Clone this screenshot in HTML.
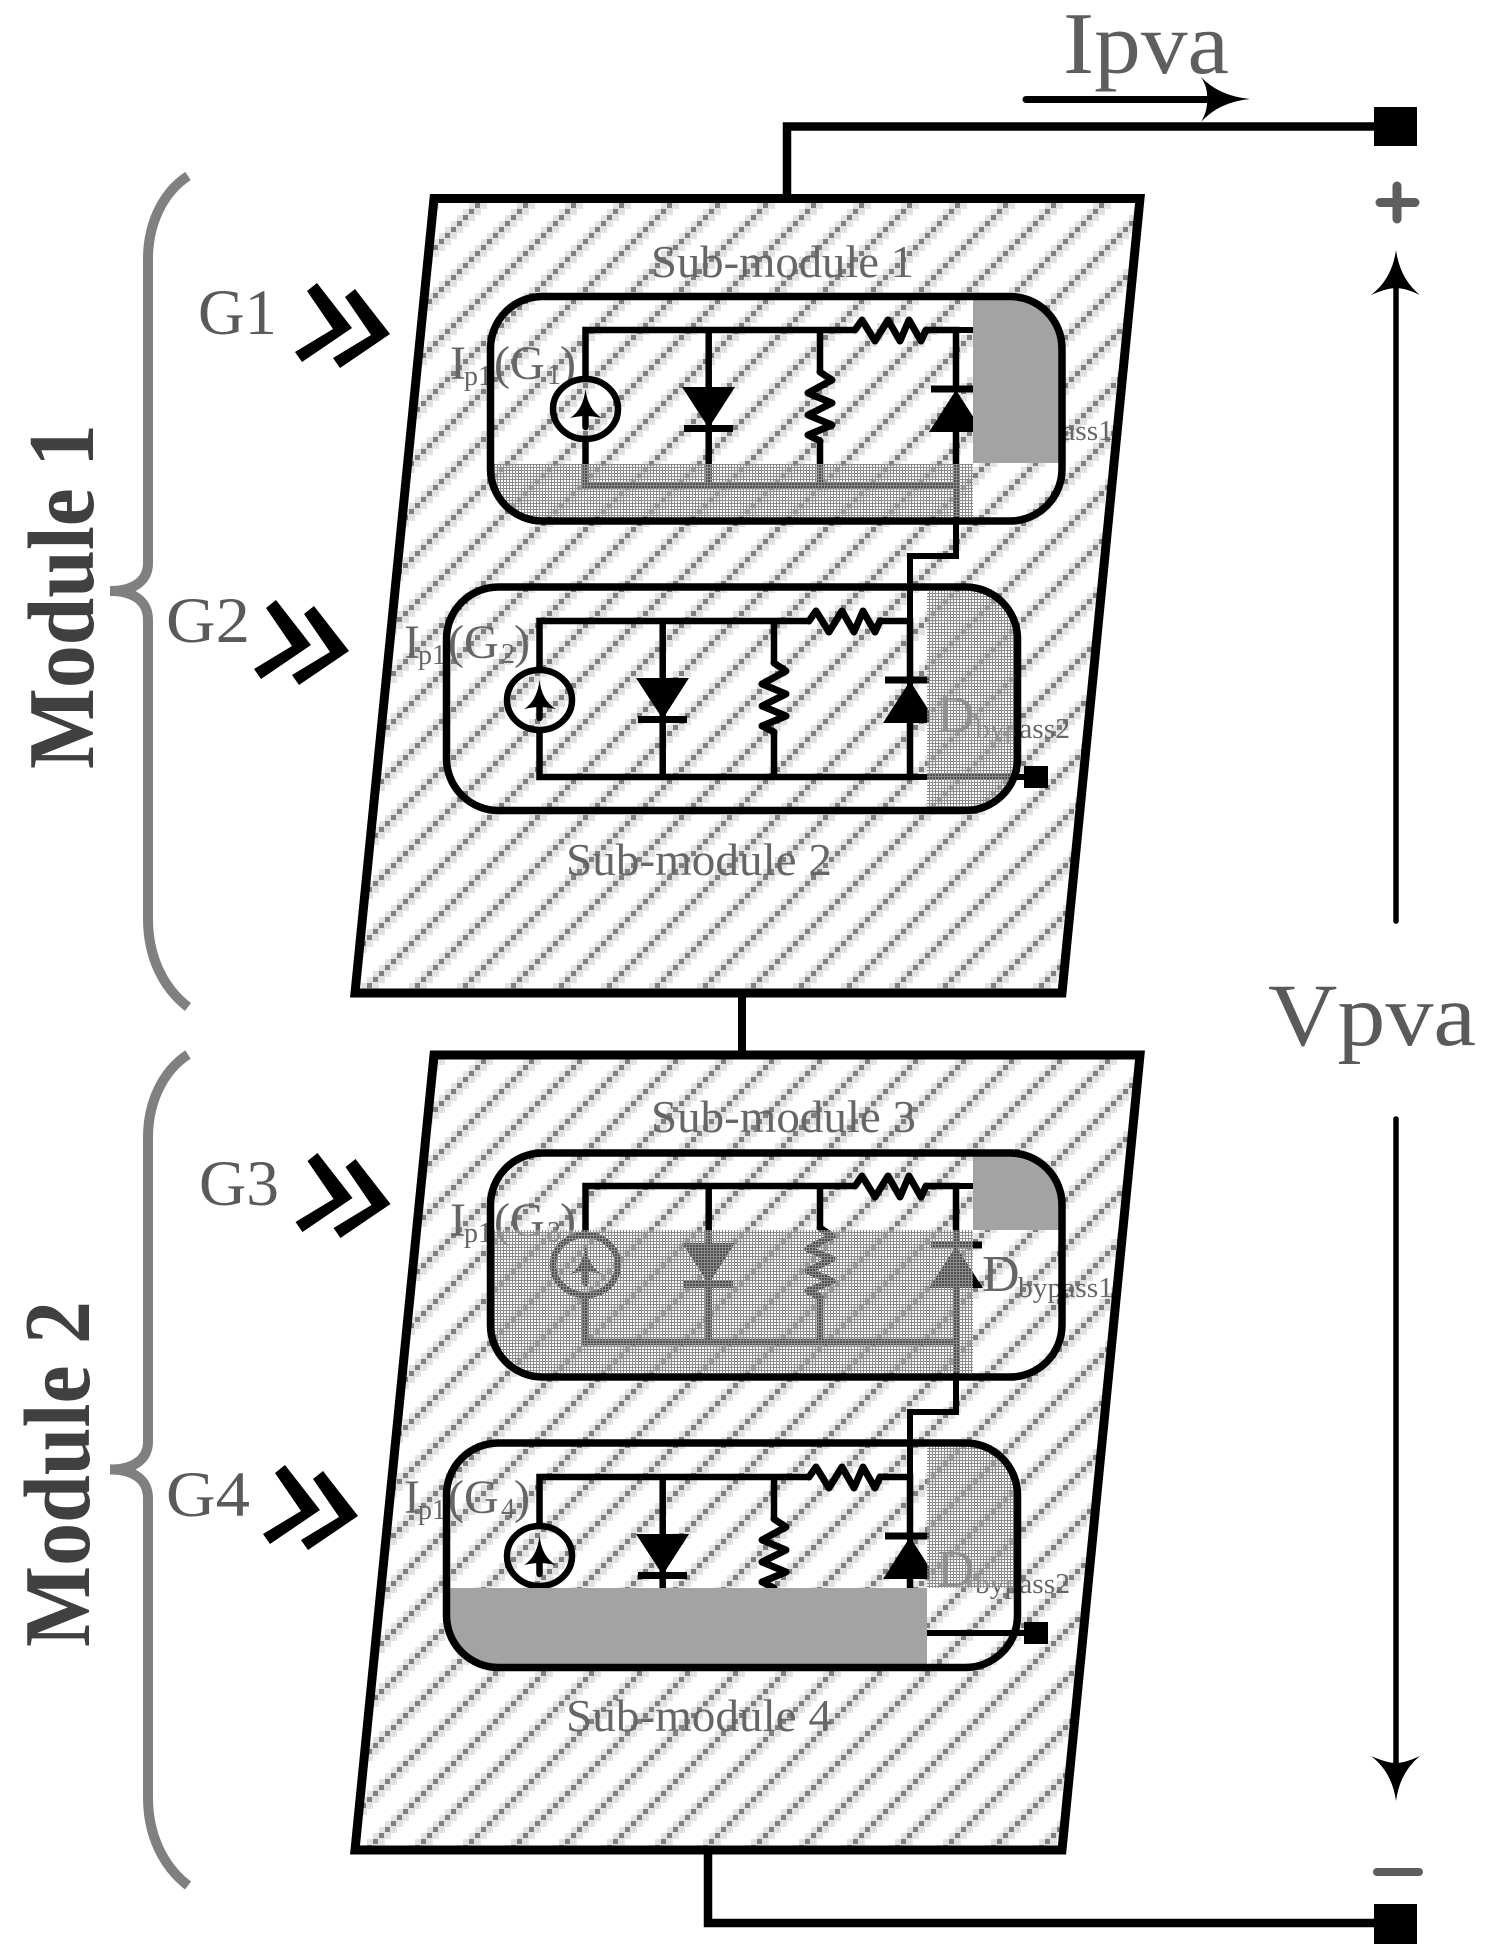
<!DOCTYPE html>
<html><head><meta charset="utf-8"><style>
html,body{margin:0;padding:0;background:#fff}
svg{display:block}
text{font-family:"Liberation Serif",serif}
</style></head><body>
<svg xmlns="http://www.w3.org/2000/svg" width="1486" height="1959" viewBox="0 0 1486 1959">
<defs>
<pattern id="h1" patternUnits="userSpaceOnUse" x="475" y="203" width="48" height="48">
<rect width="48" height="48" fill="#fff"/>
<g shape-rendering="crispEdges">
<path fill="#e2e2e2" d="M0 6h6v6h-6zM6 0h6v6h-6zM12 42h6v6h-6zM18 36h6v6h-6zM24 30h6v6h-6zM30 24h6v6h-6zM36 18h6v6h-6zM42 12h6v6h-6zM0 42h6v6h-6zM6 36h6v6h-6zM12 30h6v6h-6zM18 24h6v6h-6zM24 18h6v6h-6zM30 12h6v6h-6zM36 6h6v6h-6zM42 0h6v6h-6z"/>
<path fill="#e2e2e2" d="M0 0h6v6h-6zM6 42h6v6h-6zM12 36h6v6h-6zM18 30h6v6h-6zM24 24h6v6h-6zM30 18h6v6h-6zM36 12h6v6h-6zM42 6h6v6h-6z"/>
<path fill="#808080" d="M0 0h5v5h-5zM6 42h5v5h-5zM12 36h5v5h-5zM18 30h5v5h-5zM24 24h5v5h-5zM30 18h5v5h-5zM36 12h5v5h-5zM42 6h5v5h-5z"/>
</g>
</pattern>
<pattern id="h2" patternUnits="userSpaceOnUse" x="709" y="1839" width="48" height="48">
<rect width="48" height="48" fill="#fff"/>
<g shape-rendering="crispEdges">
<path fill="#e2e2e2" d="M0 6h6v6h-6zM6 0h6v6h-6zM12 42h6v6h-6zM18 36h6v6h-6zM24 30h6v6h-6zM30 24h6v6h-6zM36 18h6v6h-6zM42 12h6v6h-6zM0 42h6v6h-6zM6 36h6v6h-6zM12 30h6v6h-6zM18 24h6v6h-6zM24 18h6v6h-6zM30 12h6v6h-6zM36 6h6v6h-6zM42 0h6v6h-6z"/>
<path fill="#e2e2e2" d="M0 0h6v6h-6zM6 42h6v6h-6zM12 36h6v6h-6zM18 30h6v6h-6zM24 24h6v6h-6zM30 18h6v6h-6zM36 12h6v6h-6zM42 6h6v6h-6z"/>
<path fill="#808080" d="M0 0h5v5h-5zM6 42h5v5h-5zM12 36h5v5h-5zM18 30h5v5h-5zM24 24h5v5h-5zM30 18h5v5h-5zM36 12h5v5h-5zM42 6h5v5h-5z"/>
</g>
</pattern>
<pattern id="dither" patternUnits="userSpaceOnUse" width="3" height="3">
<g shape-rendering="crispEdges">
<path fill="#8c8c8c" fill-rule="evenodd" d="M0 0H3V3H0ZM0 0V2H2V0Z"/>
<rect width="2" height="2" fill="#fff" fill-opacity="0.3"/>
</g>
</pattern>
<clipPath id="c1"><rect x="490.500" y="296.500" width="571.500" height="224.500" rx="52" ry="52"/></clipPath>
<clipPath id="c2"><rect x="446.500" y="587" width="571" height="223.500" rx="52" ry="52"/></clipPath>
<clipPath id="c3"><rect x="490.500" y="1153" width="571.500" height="224" rx="52" ry="52"/></clipPath>
<clipPath id="c4"><rect x="446.500" y="1443" width="571" height="224.500" rx="52" ry="52"/></clipPath>
<clipPath id="cl"><rect x="0" y="0" width="930" height="1959"/></clipPath>

<g id="circuit">
<path fill="none" stroke="#000" stroke-width="6.500" stroke-linejoin="miter" d="M585.500 379V330H855M926 330H956V389M956 431V486H585.500V441M708.700 330V486M820 330V372M820 440V486"/>
<path fill="none" stroke="#000" stroke-width="7" stroke-linejoin="round" stroke-linecap="round" d="M855 330L862 320L875 341L888 320L900 341L909 320L921 341L926 330"/>
<path fill="none" stroke="#000" stroke-width="7" stroke-linejoin="round" stroke-linecap="round" d="M820 372L832 380L808 393L832 403L808 415L832 425L808 435L820 441"/>
<ellipse cx="585.500" cy="409" rx="32.500" ry="30" fill="none" stroke="#000" stroke-width="6.500"/>
<path d="M585.500 389Q588 410 602 418Q592 416 585.500 416Q579 416 570 418Q583 410 585.500 389Z" fill="#000"/>
<path d="M585.500 410V427" stroke="#000" stroke-width="6.500" stroke-linecap="round"/>
<path d="M682 387H735L708.700 428Z" fill="#000"/>
<path d="M684 428.500H733" stroke="#000" stroke-width="7"/>
<path d="M929 432H983L956 390Z" fill="#000"/>
<path d="M931 389H982" stroke="#000" stroke-width="7"/>
</g>
<polygon id="chev" points="307,291 317,283 352,328 302,362 295,352 333,329" fill="#000"/>
<path id="brace" fill="none" stroke="#808080" stroke-width="10" d="M188 176C162 193 148 225 148 259V563C148 580 135 591 110 591C135 591 148 602 148 620V919C148 955 162 987 188 1007"/>
</defs>

<rect width="1486" height="1959" fill="#fff"/>

<!-- top wiring -->
<path d="M787 198V126.500H1376" fill="none" stroke="#000" stroke-width="8.500"/>
<rect x="1374" y="107" width="43" height="39" fill="#000"/>
<path d="M1026 99.500H1212" stroke="#000" stroke-width="7" stroke-linecap="round"/>
<path d="M1250 99Q1219 102 1201 122Q1208 110 1207 99Q1208 88 1201 77Q1219 96 1250 99Z" fill="#000"/>
<text x="1063" y="73" font-size="88" fill="#5e5e5e" textLength="166" lengthAdjust="spacingAndGlyphs">Ipva</text>
<path d="M1380 202.500H1415M1397 186V219" stroke="#5e5e5e" stroke-width="9" stroke-linecap="round"/>

<!-- Vpva arrow -->
<path d="M1396 280V921" stroke="#000" stroke-width="5.500" stroke-linecap="round"/>
<path d="M1396 250Q1400 279 1420 295Q1405 288 1396 288Q1387 288 1371 295Q1392 279 1396 250Z" fill="#000"/>
<path d="M1396 1119V1770" stroke="#000" stroke-width="5.500" stroke-linecap="round"/>
<path d="M1396 1801Q1400 1772 1420 1756Q1405 1763 1396 1763Q1387 1763 1371 1756Q1392 1772 1396 1801Z" fill="#000"/>
<text x="1268" y="1045" font-size="89" fill="#5a5a5a" textLength="208" lengthAdjust="spacingAndGlyphs">Vpva</text>
<path d="M1377 1872H1419" stroke="#5e5e5e" stroke-width="8" stroke-linecap="round"/>

<!-- bottom wiring -->
<path d="M708 1850V1923H1376" fill="none" stroke="#000" stroke-width="8.500"/>
<rect x="1374" y="1904" width="43" height="40" fill="#000"/>
<path d="M742 993V1055" stroke="#000" stroke-width="8"/>

<!-- panels -->
<polygon points="434,198.500 1140,198.500 1062,993 355,993" fill="url(#h1)" stroke="#000" stroke-width="9"/>
<polygon points="434,1055 1140,1055 1062,1850 355,1850" fill="url(#h2)" stroke="#000" stroke-width="9"/>

<!-- labels under overlays -->
<g fill="#666">
<text x="651" y="277" font-size="46" textLength="263" lengthAdjust="spacingAndGlyphs">Sub-module 1</text>
<text x="566" y="875" font-size="46" textLength="266" lengthAdjust="spacingAndGlyphs">Sub-module 2</text>
<text x="651" y="1132" font-size="46" textLength="265" lengthAdjust="spacingAndGlyphs">Sub-module 3</text>
<text x="566" y="1731" font-size="46" textLength="266" lengthAdjust="spacingAndGlyphs">Sub-module 4</text>

<g transform="translate(450,379)">
<text x="0" y="0" font-size="48">I</text><text x="14" y="6" font-size="28">p1</text>
<text x="44" y="0" font-size="48">(G</text><text x="97" y="5" font-size="28">1</text><text x="110" y="0" font-size="48">)</text>
</g>
<g transform="translate(404,658)">
<text x="0" y="0" font-size="48">I</text><text x="14" y="6" font-size="28">p1</text>
<text x="44" y="0" font-size="48">(G</text><text x="97" y="5" font-size="28">2</text><text x="110" y="0" font-size="48">)</text>
</g>
<g transform="translate(450,1236)">
<text x="0" y="0" font-size="48">I</text><text x="14" y="6" font-size="28">p1</text>
<text x="44" y="0" font-size="48">(G</text><text x="97" y="5" font-size="28">3</text><text x="110" y="0" font-size="48">)</text>
</g>
<g transform="translate(404,1513)">
<text x="0" y="0" font-size="48">I</text><text x="14" y="6" font-size="28">p1</text>
<text x="44" y="0" font-size="48">(G</text><text x="97" y="5" font-size="28">4</text><text x="110" y="0" font-size="48">)</text>
</g>

<text x="982" y="434" font-size="52">D</text><text x="1018" y="440" font-size="29" textLength="95" lengthAdjust="spacingAndGlyphs">bypass1</text>
<text x="937" y="732" font-size="52">D</text><text x="975" y="738" font-size="29" textLength="95" lengthAdjust="spacingAndGlyphs">bypass2</text>
<text x="982" y="1291" font-size="52">D</text><text x="1018" y="1297" font-size="29" textLength="95" lengthAdjust="spacingAndGlyphs">bypass1</text>
<text x="937" y="1586" font-size="52">D</text><text x="975" y="1593" font-size="29" textLength="95" lengthAdjust="spacingAndGlyphs">bypass2</text>
</g>

<!-- circuits -->
<use href="#circuit"/>
<g clip-path="url(#cl)"><use href="#circuit" transform="translate(-46,291)"/></g>
<use href="#circuit" transform="translate(0,856)"/>
<g clip-path="url(#cl)"><use href="#circuit" transform="translate(-46,1147)"/></g>
<g fill="none" stroke="#000" stroke-width="6">
<path d="M956 486V556H910V777"/>
<path d="M956 1342V1412H910V1633"/>
<path d="M956 330H975M956 1186H975"/>
<path d="M910 777H1026M910 1633H1026"/>
</g>
<rect x="1024" y="766" width="24" height="22" fill="#000"/>
<rect x="1024" y="1622" width="24" height="22" fill="#000"/>

<!-- overlays -->
<g clip-path="url(#c1)">
<rect x="973" y="296" width="92" height="167" fill="#a3a3a3"/>
<rect x="488" y="464" width="485" height="53" fill="url(#dither)"/>
</g>
<g clip-path="url(#c2)">
<rect x="927" y="591" width="92" height="216" fill="url(#dither)"/>
</g>
<g clip-path="url(#c3)">
<rect x="973" y="1153" width="92" height="77" fill="#a3a3a3"/>
<rect x="488" y="1230" width="485" height="143" fill="url(#dither)"/>
</g>
<g clip-path="url(#c4)">
<rect x="927" y="1447" width="92" height="141" fill="url(#dither)"/>
<rect x="446" y="1588" width="481" height="80" fill="#a3a3a3"/>
</g>

<!-- round rects -->
<g fill="none" stroke="#000" stroke-width="7.500">
<rect x="490.500" y="296.500" width="571.500" height="224.500" rx="52" ry="52"/>
<rect x="446.500" y="587" width="571" height="223.500" rx="52" ry="52"/>
<rect x="490.500" y="1153" width="571.500" height="224" rx="52" ry="52"/>
<rect x="446.500" y="1443" width="571" height="224.500" rx="52" ry="52"/>
</g>

<!-- left side -->
<use href="#brace"/>
<use href="#brace" transform="translate(0,878.500)"/>
<text font-size="94" font-weight="bold" fill="#404040" transform="translate(93,769) rotate(-90)" textLength="345" lengthAdjust="spacingAndGlyphs">Module 1</text>
<text font-size="94" font-weight="bold" fill="#404040" transform="translate(89,1647) rotate(-90)" textLength="346" lengthAdjust="spacingAndGlyphs">Module 2</text>

<g fill="#5a5a5a" font-size="65">
<text x="198" y="334" textLength="79" lengthAdjust="spacingAndGlyphs">G1</text>
<text x="166" y="642" textLength="84" lengthAdjust="spacingAndGlyphs">G2</text>
<text x="199" y="1205" textLength="80" lengthAdjust="spacingAndGlyphs">G3</text>
<text x="166" y="1516" textLength="84" lengthAdjust="spacingAndGlyphs">G4</text>
</g>
<use href="#chev"/><use href="#chev" transform="translate(38,6)"/>
<use href="#chev" transform="translate(-41,317)"/><use href="#chev" transform="translate(-3,323)"/>
<use href="#chev" transform="translate(0.500,870)"/><use href="#chev" transform="translate(38.500,876)"/>
<use href="#chev" transform="translate(-32,1182)"/><use href="#chev" transform="translate(6,1188)"/>
</svg>
</body></html>
